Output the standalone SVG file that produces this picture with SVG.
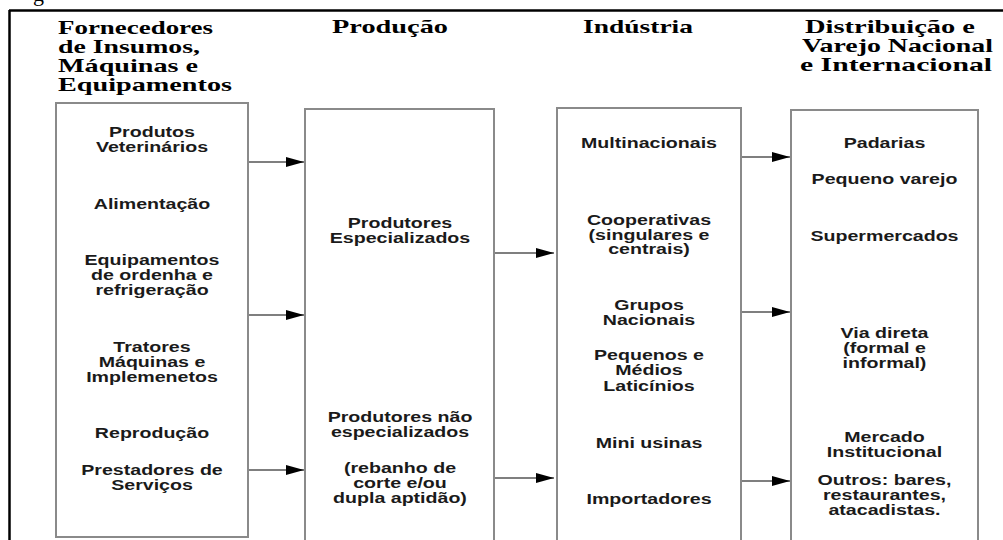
<svg xmlns="http://www.w3.org/2000/svg" width="1003" height="540" viewBox="0 0 1003 540">
<style>
.hd{font-family:"Liberation Serif","Times New Roman",serif;font-weight:bold;font-size:19px;fill:#000}
.tx{font-family:"Liberation Sans",Arial,sans-serif;font-weight:bold;font-size:14px;fill:#1a1a1a;text-anchor:middle}
.box{fill:#fff;stroke:#8a8a8a;stroke-width:2}
.cn{stroke:#555;stroke-width:1.5;fill:none;marker-end:url(#ah)}
</style>
<defs>
<marker id="ah" markerUnits="userSpaceOnUse" markerWidth="18" markerHeight="10" refX="18" refY="5" orient="auto">
<path d="M0,0 L18,5 L0,10 z" fill="#000"/>
</marker>
</defs>
<rect x="0" y="0" width="1003" height="540" fill="#fff"/>
<text x="33" y="1" style="font-family:'Liberation Serif',serif;font-size:22px">g</text>
<g id="frame" stroke="#000" stroke-width="2.5" fill="none">
<line x1="9" y1="10.5" x2="1003" y2="10.5"/>
<line x1="9.5" y1="10" x2="9.5" y2="540"/>
</g>
<g id="headers">
<text class="hd" x="58" y="34" textLength="155" lengthAdjust="spacingAndGlyphs">Fornecedores</text>
<text class="hd" x="58" y="53" textLength="142" lengthAdjust="spacingAndGlyphs">de Insumos,</text>
<text class="hd" x="58" y="72" textLength="140" lengthAdjust="spacingAndGlyphs">Máquinas e</text>
<text class="hd" x="58" y="91" textLength="174" lengthAdjust="spacingAndGlyphs">Equipamentos</text>
<text class="hd" x="332" y="33" textLength="116" lengthAdjust="spacingAndGlyphs">Produção</text>
<text class="hd" x="583" y="33" textLength="110" lengthAdjust="spacingAndGlyphs">Indústria</text>
<text class="hd" x="805" y="33" textLength="170" lengthAdjust="spacingAndGlyphs">Distribuição e</text>
<text class="hd" x="802" y="52" textLength="191" lengthAdjust="spacingAndGlyphs">Varejo Nacional</text>
<text class="hd" x="800" y="71" textLength="192" lengthAdjust="spacingAndGlyphs">e Internacional</text>
</g>
<g id="node-fornecedores">
<rect class="box" x="56" y="103" width="192" height="434"/>
<g transform="translate(152,0) scale(1.4,1)">
<text class="tx" x="0" y="137">Produtos</text>
<text class="tx" x="0" y="152">Veterinários</text>
<text class="tx" x="0" y="209">Alimentação</text>
<text class="tx" x="0" y="265">Equipamentos</text>
<text class="tx" x="0" y="280">de ordenha e</text>
<text class="tx" x="0" y="295">refrigeração</text>
<text class="tx" x="0" y="352">Tratores</text>
<text class="tx" x="0" y="367">Máquinas e</text>
<text class="tx" x="0" y="382">Implemenetos</text>
<text class="tx" x="0" y="438">Reprodução</text>
<text class="tx" x="0" y="475">Prestadores de</text>
<text class="tx" x="0" y="490">Serviços</text>
</g>
</g>
<g id="node-producao">
<rect class="box" x="305" y="109" width="189" height="436"/>
<g transform="translate(400,0) scale(1.4,1)">
<text class="tx" x="0" y="228">Produtores</text>
<text class="tx" x="0" y="243">Especializados</text>
<text class="tx" x="0" y="422">Produtores não</text>
<text class="tx" x="0" y="437">especializados</text>
<text class="tx" x="0" y="473">(rebanho de</text>
<text class="tx" x="0" y="488">corte e/ou</text>
<text class="tx" x="0" y="503">dupla aptidão)</text>
</g>
</g>
<g id="node-industria">
<rect class="box" x="557" y="108" width="184" height="437"/>
<g transform="translate(649,0) scale(1.4,1)">
<text class="tx" x="0" y="148">Multinacionais</text>
<text class="tx" x="0" y="225">Cooperativas</text>
<text class="tx" x="0" y="240">(singulares e</text>
<text class="tx" x="0" y="254">centrais)</text>
<text class="tx" x="0" y="310">Grupos</text>
<text class="tx" x="0" y="325">Nacionais</text>
<text class="tx" x="0" y="360">Pequenos e</text>
<text class="tx" x="0" y="375">Médios</text>
<text class="tx" x="0" y="391">Laticínios</text>
<text class="tx" x="0" y="448">Mini usinas</text>
<text class="tx" x="0" y="504">Importadores</text>
</g>
</g>
<g id="node-distribuicao">
<rect class="box" x="791" y="110" width="187" height="435"/>
<g transform="translate(884.5,0) scale(1.4,1)">
<text class="tx" x="0" y="148">Padarias</text>
<text class="tx" x="0" y="184">Pequeno varejo</text>
<text class="tx" x="0" y="241">Supermercados</text>
<text class="tx" x="0" y="338">Via direta</text>
<text class="tx" x="0" y="353">(formal e</text>
<text class="tx" x="0" y="368">informal)</text>
<text class="tx" x="0" y="442">Mercado</text>
<text class="tx" x="0" y="457">Institucional</text>
<text class="tx" x="0" y="485">Outros: bares,</text>
<text class="tx" x="0" y="500">restaurantes,</text>
<text class="tx" x="0" y="515">atacadistas.</text>
</g>
</g>
<g id="connectors">
<line class="cn" x1="249" y1="162" x2="304" y2="162"/>
<line class="cn" x1="249" y1="315" x2="304" y2="315"/>
<line class="cn" x1="249" y1="470" x2="304" y2="470"/>
<line class="cn" x1="495" y1="253" x2="554" y2="253"/>
<line class="cn" x1="495" y1="478" x2="554" y2="478"/>
<line class="cn" x1="742" y1="157" x2="790" y2="157"/>
<line class="cn" x1="742" y1="312" x2="790" y2="312"/>
<line class="cn" x1="742" y1="481" x2="790" y2="481"/>
</g>
</svg>
